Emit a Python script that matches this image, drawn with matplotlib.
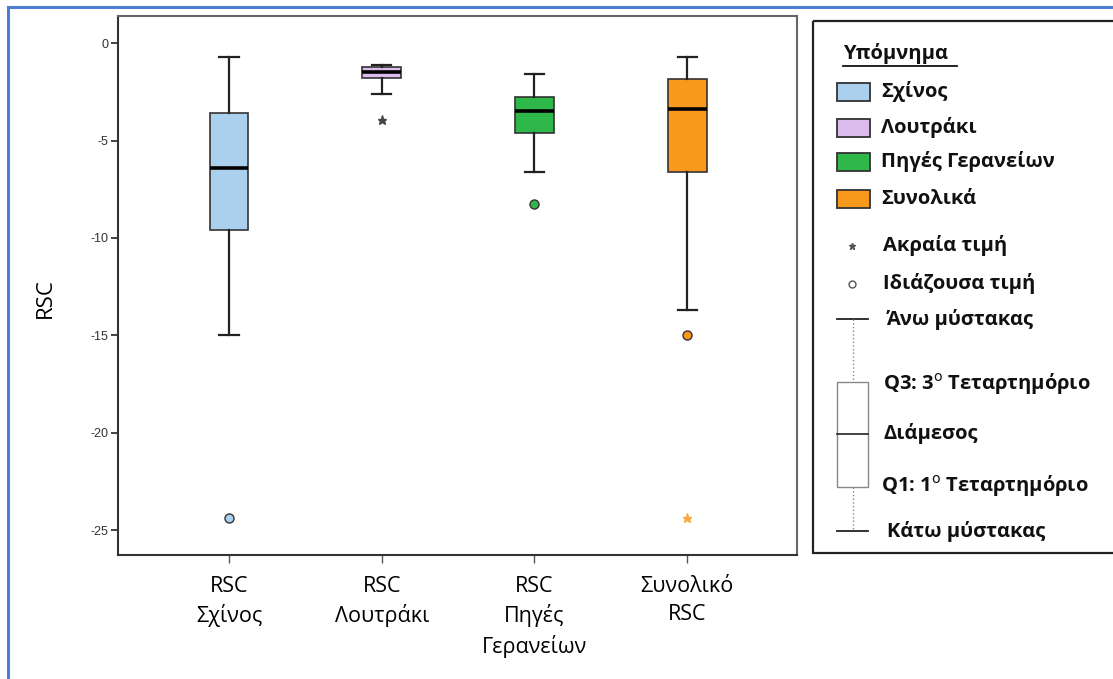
import matplotlib
matplotlib.use("Agg")
import matplotlib.pyplot as plt
from matplotlib.patches import Rectangle

# RSC summary per area (box-plot statistics)
labels = ['RSC\nΣχίνος', 'RSC\nΛουτράκι', 'RSC\nΠηγές\nΓερανείων', 'Συνολικό\nRSC']
whis_lo = [-15.0, -2.6, -6.6, -13.7]
q1 = [-9.6, -1.8, -4.6, -6.6]
median = [-6.4, -1.5, -3.5, -3.4]
q3 = [-3.6, -1.2, -2.75, -1.85]
whis_hi = [-0.7, -1.1, -1.6, -0.7]
outliers = [[-24.4], [], [-8.25], [-15.0]]
extremes = [[], [-3.95], [], [-24.4]]

box_colors = ['#abd0ee', '#dcbbef', '#2eb84a', '#f8991d']
extreme_colors = ['#444444', '#444444', '#444444', '#f8a940']

legend_names = ['Σχίνος', 'Λουτράκι', 'Πηγές Γερανείων', 'Συνολικά']

W, H = 1113, 679
fig = plt.figure(figsize=(W / 100, H / 100), dpi=100)
ax = fig.add_axes([118 / W, 1 - 555 / H, (797 - 118) / W, (555 - 16) / H])

for i in range(len(labels)):
    stats = [dict(whislo=whis_lo[i], q1=q1[i], med=median[i], q3=q3[i],
                  whishi=whis_hi[i], fliers=outliers[i], label=labels[i])]
    ax.bxp(stats, positions=[i + 1], widths=0.255, patch_artist=True,
           showfliers=True,
           boxprops=dict(facecolor=box_colors[i], edgecolor='#333333', linewidth=1.2),
           medianprops=dict(color='black', linewidth=2.6),
           whiskerprops=dict(color='#222222', linewidth=1.6),
           capprops=dict(color='#222222', linewidth=1.6),
           capwidths=0.125,
           flierprops=dict(marker='o', markersize=6.5, markerfacecolor=box_colors[i],
                           markeredgecolor='#333333', markeredgewidth=1.0))
    if extremes[i]:
        ax.plot([i + 1] * len(extremes[i]), extremes[i], linestyle='none',
                marker='*', markersize=6.5, color=extreme_colors[i])

ax.set_xlim(0.273, 4.72)
ax.set_ylim(-26.28, 1.4)
ax.set_yticks([0, -5, -10, -15, -20, -25])
ax.set_yticklabels(['0', '-5', '-10', '-15', '-20', '-25'],
                   fontfamily='Liberation Sans', fontsize=9, color='#333333')
ax.set_xticks([1, 2, 3, 4])
ax.set_xticklabels(labels, fontfamily='Open Sans', fontsize=15.5,
                   linespacing=1.42, va='top')
ax.tick_params(axis='y', length=5, width=1.3, color='#333333', pad=2)
ax.tick_params(axis='x', length=6, width=1.0, color='#555555', pad=9)
for side in ['left', 'bottom']:
    ax.spines[side].set_color('#333333')
    ax.spines[side].set_linewidth(1.5)
for side in ['top', 'right']:
    ax.spines[side].set_color('#666666')
    ax.spines[side].set_linewidth(1.5)

fig.text(45 / W, 1 - 298 / H, 'RSC', rotation=90, ha='center', va='center',
         fontfamily='Open Sans', fontsize=16)

# overlay in pixel coordinates for the frame and the legend panel
ov = fig.add_axes([0, 0, 1, 1], zorder=5)
ov.set_xlim(0, W)
ov.set_ylim(H, 0)
ov.axis('off')
ov.patch.set_alpha(0)

ov.plot([8, W], [7, 7], color='#4a7fd4', linewidth=2.2)
ov.plot([8, 8], [7, H], color='#4a7fd4', linewidth=2.2)

ov.add_patch(Rectangle((813, 21), 320, 532, facecolor='none',
                       edgecolor='#222222', linewidth=1.6))

lfont = dict(fontfamily='Open Sans', fontweight='bold', fontsize=14.5,
             color='#111111', va='center', ha='left')

ov.text(843, 53, 'Υπόμνημα', **lfont)
ov.plot([843, 957], [66, 66], color='#111111', linewidth=1.3)

for y, name, c in zip([92, 128, 162, 199], legend_names, box_colors):
    ov.add_patch(Rectangle((837, y - 9), 33, 18, facecolor=c,
                           edgecolor='#333333', linewidth=1.3))
    ov.text(881, y, name, **lfont)

ov.plot([852], [246], marker='*', markersize=5, color='#555555', linestyle='none')
ov.text(883, 245, 'Ακραία τιμή', **lfont)
ov.plot([852], [284], marker='o', markersize=5, markerfacecolor='white',
        markeredgecolor='#555555', markeredgewidth=1.0, linestyle='none')
ov.text(883, 283, 'Ιδιάζουσα τιμή', **lfont)

# schematic box explaining the parts of each box
ov.plot([837, 868], [319, 319], color='#222222', linewidth=1.3)
ov.plot([852.5, 852.5], [319, 382], color='#888888', linewidth=1.0, linestyle=':')
ov.add_patch(Rectangle((837, 382), 31, 105, facecolor='white',
                       edgecolor='#888888', linewidth=1.0))
ov.plot([837, 868], [434, 434], color='#333333', linewidth=1.3)
ov.plot([852.5, 852.5], [487, 531], color='#888888', linewidth=1.0, linestyle=':')
ov.plot([837, 868], [531, 531], color='#222222', linewidth=1.3)

ov.text(887, 320, 'Άνω μύστακας', **lfont)
ov.text(883, 384, 'Q3: 3$^{\\mathrm{o}}$ Τεταρτημόριο', **lfont)
ov.text(883, 433, 'Διάμεσος', **lfont)
ov.text(881, 486, 'Q1: 1$^{\\mathrm{o}}$ Τεταρτημόριο', **lfont)
ov.text(887, 531, 'Κάτω μύστακας', **lfont)

fig.savefig('out.png', dpi=100)
